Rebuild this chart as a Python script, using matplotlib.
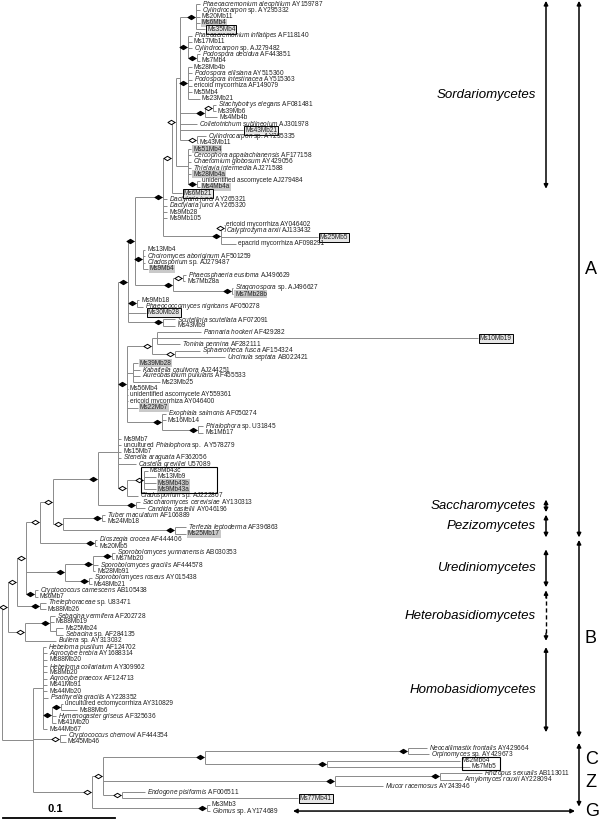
import re
import matplotlib
matplotlib.use('Agg')
import matplotlib.pyplot as plt
from matplotlib.collections import LineCollection
from matplotlib.path import Path
from matplotlib.patches import Rectangle

plt.rcParams['font.family'] = ['Liberation Sans', 'DejaVu Sans']
plt.rcParams['mathtext.fontset'] = 'custom'
plt.rcParams['mathtext.rm'] = 'Liberation Sans'
plt.rcParams['mathtext.it'] = 'Liberation Sans:italic'

# leaves top to bottom (*...* = italic), their parent node and tip position (px along the 0.1 scale)
leaf_labels = [
    '*Phaeoacremonium aleophilum* AY159787', '*Cylindrocarpon* sp. AY295332', 'Ms20Mb11', 'Ms6Mb4', 'Ms35Mb4',
    '*Phaeoacremonium inflatipes* AF118140', 'Ms17Mb11', '*Cylindrocarpon* sp. AJ279482',
    '*Podospora decidua* AF443851', 'Ms7Mb4',
    'Ms28Mb4b', '*Podospora ellisiana* AY515360', '*Podospora intestinacea* AY515363',
    'ericoid mycorrhiza AF149079', 'Ms5Mb4', 'Ms23Mb21',
    '*Stachybotrys elegans* AF081481', 'Ms39Mb6', 'Ms4Mb4b',
    '*Colletotrichum sublineolum* AJ301978', 'Ms43Mb21',
    '*Cylindrocarpon* sp. AY295335', 'Ms43Mb11',
    'Ms51Mb4', '*Cercophora appalachianensis* AF177158', '*Chaetomium globosum* AY429056',
    '*Thielavia intermedia* AJ271588', 'Ms28Mb4a',
    'unidentified ascomycete AJ279484', 'Ms4Mb4a',
    'Ms6Mb21',
    '*Dactylaria junci* AY265321', '*Dactylaria junci* AY265320', 'Ms9Mb28', 'Ms9Mb105',
    'ericoid mycorrhiza AY046402', '*Calyptrozyma arxii* AJ133432', 'Ms25Mb5', 'epacrid mycorrhiza AF098291',
    'Ms13Mb4', '*Choiromyces aboriginum* AF501259', '*Cladosporium* sp. AJ279487', 'Ms9Mb4',
    '*Phaeosphaeria eustoma* AJ496629', 'Ms7Mb28a',
    '*Stagonospora* sp. AJ496627', 'Ms7Mb28b',
    'Ms9Mb18', '*Phaeococcomyces nigricans* AF050278',
    'Ms30Mb28',
    '*Scutellinia scutellata* AF072091', 'Ms43Mb9',
    '*Pannaria hookeri* AF429282', 'Ms10Mb19', '*Toninia pennina* AF282111',
    '*Sphaerotheca fusca* AF154324', '*Uncinula septata* AB022421',
    'Ms39Mb28', '*Kabatiella caulivora* AJ244251', '*Aureobasidium pullulans* AF455533', 'Ms23Mb25',
    'Ms56Mb4', 'unidentified ascomycete AY559361', 'ericoid mycorrhiza AY046400', 'Ms22Mb7',
    '*Exophiala salmonis* AF050274', 'Ms16Mb14',
    '*Phialophora* sp. U31845', 'Ms1Mb17',
    'Ms9Mb7', 'uncultured *Phialophora* sp.  AY578279', 'Ms15Mb7', '*Stenella araguata* AF362056',
    '*Castella grevillei* U57089',
    'Ms9Mb43c', 'Ms13Mb9', 'Ms9Mb43b', 'Ms9Mb43a',
    '*Cladosporium* sp. AJ222807',
    '*Saccharomyces cerevisiae* AY130313', '*Candida castellii* AY046196',
    '*Tuber maculatum* AF106889', 'Ms24Mb18',
    '*Terfezia leptoderma* AF396863', 'Ms25Mb17',
    '*Dioszegia crocea* AF444406', 'Ms20Mb5',
    '*Sporobolomyces yunnanensis* AB030353', 'Ms7Mb20',
    '*Sporobolomyces gracilis* AF444578', 'Ms28Mb91',
    '*Sporobolomyces roseus* AY015438', 'Ms48Mb21',
    '*Cryptococcus carnescens* AB105438', 'Ms6Mb7',
    '*Thelephoraceae* sp. U83471', 'Ms88Mb26',
    '*Sebacina vermifera* AF202728', 'Ms88Mb19',
    'Ms25Mb24', '*Sebacina* sp. AF284135',
    '*Bullera* sp. AY313032',
    '*Hebeloma pusillum* AF124702', '*Agrocybe erebia* AY1688314', 'Ms88Mb20',
    '*Hebeloma collariatum* AY309962', 'Ms8Mb20', '*Agrocybe praecox* AF124713',
    'Ms41Mb91', 'Ms44Mb20', '*Psathyrella gracilis* AY228352',
    'uncultured ectomycorrhiza AY310829', 'Ms88Mb6',
    '*Hymenogaster griseus* AF325636', 'Ms41Mb20',
    'Ms44Mb67',
    '*Cryptococcus chernovii* AF444354', 'Ms45Mb46',
    '*Neocallimastix frontalis* AY429664', '*Orpinomyces* sp. AY429673',
    'Ms2Mb64', 'Ms7Mb5',
    '*Rhizopus sexualis* AB113011', '*Amylomyces rouxii* AY228094',
    '*Mucor racemosus* AY243946',
    '*Endogone pisiformis* AF006511', 'Ms77Mb41',
    'Ms3Mb3', '*Glomus* sp. AY174689',
]
leaf_parent = [
    's1', 's1', 's1', 's1', 's1',
    's2', 's2', 's2',
    's2a', 's2a',
    's3', 's3', 's3',
    's3', 's3', 's3',
    's4a', 's4a', 's4',
    's0', 's0',
    's5', 's5',
    's7', 's7', 's7',
    's7', 's7',
    's6', 's6',
    'sordA',
    'P163', 'P163', 'P163', 'P163',
    'N225', 'N225', 'N220', 'N220',
    'N145', 'N145', 'N145', 'N145',
    'N183', 'N183',
    'N232', 'N232',
    'N137', 'N137',
    'N128',
    'N163s', 'N163s',
    'Npt', 'Npt', 'Npt',
    'N175', 'N175',
    'N133', 'N133', 'N133', 'N133',
    'N127', 'N127', 'N127', 'N127',
    'N162', 'N162',
    'N198', 'N198',
    'N118c', 'N118c', 'N118c', 'N118c',
    'N118b',
    'Ncl3', 'Ncl3', 'Ncl3', 'Ncl3',
    'Ncl1',
    'N138', 'N138',
    'N102', 'N102',
    'N175t', 'N175t',
    'N95', 'N95',
    'N112', 'N112',
    'N93', 'N93',
    'N89', 'N89',
    'N35', 'N35',
    'N40t', 'N40t',
    'N50', 'N50',
    'N56', 'N56',
    'N25h',
    'N43', 'N43', 'N43',
    'N43', 'N43', 'N43',
    'N43', 'N43', 'N43',
    'S2', 'S2',
    'S1', 'S1',
    'N43',
    'N60', 'N60',
    'N408', 'N408',
    'N327', 'N327',
    'N440', 'N440',
    'Z335',
    'N122', 'N122',
    'N207', 'N207',
]
leaf_tip = [
    200, 200, 200, 200, 205,
    192, 192, 192,
    200, 200,
    192, 192, 192,
    192, 192, 200,
    216, 216, 217,
    197, 243,
    206, 198,
    191, 191, 191,
    191, 191,
    200, 200,
    182,
    167, 167, 167, 167,
    224, 224, 318, 236,
    145, 145, 145, 148,
    186, 185,
    233, 233,
    139, 143,
    146,
    175, 175,
    201, 478, 180,
    200, 225,
    138, 140, 140, 160,
    128, 128, 128, 138,
    166, 166,
    203, 203,
    121, 121, 121, 121,
    136,
    148, 156, 156, 156,
    138,
    140, 145,
    105, 105,
    186, 186,
    97, 97,
    115, 114,
    98, 95,
    92, 92,
    38, 38,
    46, 46,
    55, 54,
    63, 63,
    56,
    46, 47, 47,
    47, 47, 47,
    47, 47, 48,
    63, 77,
    56, 56,
    47,
    66, 66,
    427, 429,
    460, 470,
    482, 462,
    383,
    145, 298,
    210, 210,
]

# internal nodes: name, parent, position, bootstrap symbol (b = filled, w = open)
node_names = ['root', 'R2', 'N17', 'N25b', 'N40', 'N53', 'N98', 'N118', 'N118b', 'N118c',
              'N128', 'P135', 'P163',
              'sordA', 'sordB', 's0', 's1', 's2', 's2a', 's3', 's4', 's4a', 's5', 's7', 's6',
              'N220', 'N225', 'N145', 'N173', 'N183', 'N232', 'N137', 'N163s',
              'N127', 'Npan', 'Npt', 'N175', 'N133', 'N162', 'N198', 'Ncl1', 'Ncl3', 'N138',
              'N63', 'N102', 'N175t', 'N95', 'N63s', 'N93', 'N112', 'N89', 'N35', 'N40t',
              'N25h', 'N50', 'N56', 'Q', 'N43', 'S1', 'S2', 'N60', 'N92', 'L1', 'C205',
              'N408', 'N327', 'Z335', 'N440', 'N122', 'N207']
node_parent = [None, 'root', 'R2', 'N17', 'N25b', 'N40', 'N53', 'N98', 'N118', 'N118b',
               'N118c', 'N128', 'P135',
               'P163', 'sordA', 'sordB', 's0', 's0', 's2', 's0', 's0', 's4', 's0', 'sordB', 's7',
               'P163', 'N220', 'P135', 'P135', 'N173', 'N173', 'N128', 'N128',
               'N118c', 'N127', 'Npan', 'Npan', 'N127', 'N127', 'N162', 'N118', 'Ncl1', 'N98',
               'N53', 'N63', 'N63', 'N40', 'N25b', 'N63s', 'N93', 'N63s', 'N25b', 'N17',
               'R2', 'N25h', 'N50', 'root', 'Q', 'N43', 'S1', 'Q', 'Q', 'N92', 'L1',
               'C205', 'C205', 'L1', 'Z335', 'L1', 'N92']
node_x = [2, 8, 17, 26, 40, 53, 98, 118, 118, 118,
          128, 135, 163,
          172, 176, 180, 196, 188, 197, 188, 205, 213, 197, 188, 197,
          221, 225, 143, 173, 183, 232, 137, 163,
          127, 152, 157, 175, 133, 162, 198, 127, 144, 136,
          63, 102, 175, 95, 65, 93, 112, 89, 35, 40,
          25, 50, 56, 33, 43, 52, 61, 60, 92, 103, 205,
          408, 327, 335, 440, 122, 207]
node_support = ['', 'w', 'w', 'w', 'w', 'w', 'b', '', '', '',
                'b', 'b', 'b',
                'w', 'w', '', 'b', 'b', 'b', 'b', 'b', 'w', 'w', '', 'b',
                'b', 'w', 'b', 'b', 'w', 'b', 'b', 'b',
                'b', 'w', '', 'w', '', 'b', 'b', 'w', 'w', 'b',
                'w', 'b', 'b', 'b', 'b', 'b', 'b', 'b', 'b', 'b',
                'w', 'b', '', '', '', 'b', 'b', 'w', 'w', 'w', 'b',
                'b', 'b', 'b', 'b', 'w', 'b']

gray_leaves = ['Ms6Mb4', 'Ms51Mb4', 'Ms28Mb4a', 'Ms4Mb4a', 'Ms9Mb4', 'Ms7Mb28b', 'Ms39Mb28',
               'Ms22Mb7', 'Ms9Mb43b', 'Ms9Mb43a', 'Ms25Mb17']
boxed_leaves = ['Ms35Mb4', 'Ms43Mb21', 'Ms6Mb21', 'Ms25Mb5', 'Ms30Mb28', 'Ms10Mb19', 'Ms77Mb41']
framed_groups = [('Ms9Mb43c', 'Ms9Mb43a', 141, 217), ('Ms2Mb64', 'Ms7Mb5', 462, 500)]

# clade brackets on the right: label, first row, last row, dashed
sub_groups = [('Sordariomycetes', 0.5, 30.3, False), ('Saccharomycetes', 79.6, 81.6, False),
              ('Pezizomycetes', 82.0, 85.6, False), ('Urediniomycetes', 87.5, 93.5, False),
              ('Heterobasidiomycetes', 94.0, 102.0, True), ('Homobasidiomycetes', 103.0, 116.5, False)]
phyla = [('A', 0.5, 85.6), ('B', 86.0, 117.3), ('', 118.2, 128.3)]
phyla_letters = [('C', 120.9), ('Z', 124.4), ('G', 129.0)]

ROW_PX = 6.305
ROW_TOP = 1 - 4 / ROW_PX
ROW_BOTTOM = 1 + 817 / ROW_PX

children = {n: [] for n in node_names}
for i, p in enumerate(leaf_parent):
    children[p].append(('leaf', i))
for n, p in zip(node_names, node_parent):
    if p is not None:
        children[p].append(('node', n))
nx = dict(zip(node_names, node_x))
node_y = {}


def pos(kind, key):
    if kind == 'leaf':
        return leaf_tip[key], key + 1
    if key not in node_y:
        ys = [pos(*c)[1] for c in children[key]]
        node_y[key] = (min(ys) + max(ys)) / 2
    return nx[key], node_y[key]


segs = []
for n in node_names:
    x0, y0 = pos('node', n)
    ys = []
    for c in children[n]:
        cx, cy = pos(*c)
        ys.append(cy)
        segs.append([(x0, cy), (cx, cy)])
    segs.append([(x0, min(ys)), (x0, max(ys))])

fig = plt.figure(figsize=(6, 8.21), dpi=100)
ax = fig.add_axes([0, 0, 1, 1])
ax.set_xlim(0, 600)
ax.set_ylim(ROW_BOTTOM, ROW_TOP)
ax.axis('off')

ax.add_collection(LineCollection(segs, colors='#8a8a8a', linewidths=0.7))

diamond = Path([(-1, 0), (0, 0.62), (1, 0), (0, -0.62), (-1, 0)],
               [Path.MOVETO, Path.LINETO, Path.LINETO, Path.LINETO, Path.CLOSEPOLY])
for n, s in zip(node_names, node_support):
    if not s:
        continue
    x0, y0 = pos('node', n)
    ax.scatter([x0 - 5], [y0], marker=diamond, s=26, facecolor='k' if s == 'b' else 'white',
               edgecolor='k', linewidths=0.7, zorder=4)


def fmt(s):
    parts = re.split(r'\*(.+?)\*', s)
    out = ''
    for i, p in enumerate(parts):
        out += r'$\it{' + p.replace(' ', r'\ ') + '}$' if i % 2 else p
    return out


for i, lab in enumerate(leaf_labels):
    kw = {}
    if lab in gray_leaves:
        kw['bbox'] = dict(boxstyle='square,pad=0.08', fc='#c9c9c9', ec='none')
    if lab in boxed_leaves:
        kw['bbox'] = dict(boxstyle='square,pad=0.15', fc='#e6e6e6', ec='k', lw=0.7)
    ax.text(leaf_tip[i] + 2, i + 1, fmt(lab), fontsize=4.7, va='center', ha='left', color='#222222', **kw)

for first, last, xa, xb in framed_groups:
    r0 = leaf_labels.index(first) + 1 - 0.55
    r1 = leaf_labels.index(last) + 1 + 0.55
    ax.add_patch(Rectangle((xa, r0), xb - xa, r1 - r0, fill=False, ec='k', lw=0.8, zorder=5))

arrow_kw = dict(arrowstyle='<|-|>', color='k', lw=1.1, mutation_scale=6, shrinkA=0, shrinkB=0)
for name, r0, r1, dashed in sub_groups:
    if dashed:
        ax.plot([546, 546], [r0 + 0.6, r1 - 0.6], color='k', lw=1.0, ls=(0, (3, 2)))
        for tip, tail in ((r0, r0 + 1.2), (r1, r1 - 1.2)):
            ax.annotate('', xy=(546, tip), xytext=(546, tail),
                        arrowprops=dict(arrowstyle='-|>', color='k', lw=1.0, mutation_scale=6,
                                        shrinkA=0, shrinkB=0))
    else:
        ax.annotate('', xy=(546, r0), xytext=(546, r1), arrowprops=arrow_kw)
    ax.text(536, (r0 + r1) / 2, name, fontsize=9.5, style='italic', ha='right', va='center')

for name, r0, r1 in phyla:
    ax.annotate('', xy=(579, r0), xytext=(579, r1), arrowprops=arrow_kw)
    if name:
        ax.text(585, (r0 + r1) / 2, name, fontsize=13, ha='left', va='center')
for name, r in phyla_letters:
    ax.text(585, r, name, fontsize=13, ha='left', va='center')
ax.annotate('', xy=(293, 129), xytext=(575, 129), arrowprops=arrow_kw)

# scale bar
bar_row = 1 + (818 - 4) / ROW_PX
ax.plot([3, 115], [bar_row, bar_row], color='k', lw=1.3)
ax.text(55, bar_row - 1.4, '0.1', fontsize=8, fontweight='bold', ha='center', va='center')

fig.savefig('out.png', dpi=100)
